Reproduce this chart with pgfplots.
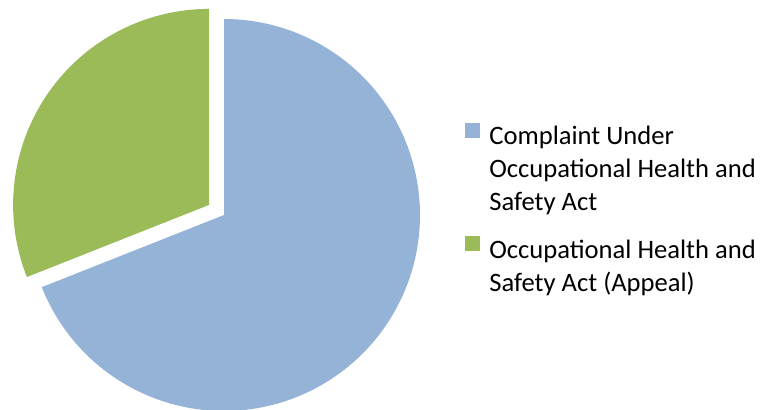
\documentclass[border=0pt]{standalone}
\usepackage{pgfplots}
\pgfplotsset{compat=1.18}
\usepackage{pgfplotstable}
\usepackage{fontspec}
\setmainfont{Carlito}
\definecolor{pieblue}{HTML}{95B3D7}
\definecolor{piegreen}{HTML}{9BBB59}
\newcommand\ls{\rule[-4.95pt]{0pt}{16.5pt}}
\newcommand\lsgap{\rule[-4.95pt]{0pt}{24pt}}
\pgfplotsset{
  legsqB/.style={legend image code/.code={\fill[##1,draw=none] (0pt,-5.05pt) rectangle (7.5pt,2.45pt);}},
}
\pgfplotstableread{
label value
Complaint 69
Appeal 31
}\piedata
\begin{document}
\pgfplotstablegetelem{0}{value}\of\piedata \edef\va{\pgfplotsretval}%
\pgfplotstablegetelem{1}{value}\of\piedata \edef\vb{\pgfplotsretval}%
\pgfmathsetmacro\angA{\va/(\va+\vb)*360}%
\pgfmathsetmacro\startA{90-\angA}%
\pgfmathsetmacro\endB{90+360-\angA}%
\pgfmathsetmacro\midB{90+(360-\angA)/2}%
\pgfmathsetmacro\gx{224+18*cos(\midB)}%
\pgfmathsetmacro\gy{194+18*sin(\midB)}%
\begin{tikzpicture}
\begin{axis}[
  width=380.5pt, height=204.5pt, scale only axis,
  xmin=0, xmax=761, ymin=0, ymax=409,
  axis line style={draw=none}, xtick=\empty, ytick=\empty,
  legend cell align=left,
  legend style={at={(0.611,0.7044)}, anchor=north west, draw=none, fill=none,
    inner sep=0pt, row sep=3.5pt, column sep=4.5pt,
    font=\fontsize{13.3}{16.5}\selectfont,
    nodes={inner sep=0pt}},
  legend image code/.code={\fill[#1,draw=none] (0pt,-1.8pt) rectangle (7.5pt,5.7pt);},
]
\addplot[fill=pieblue, draw=none, domain=\startA:90, samples=181, variable=\t]
  ({224+196*cos(\t)},{194+196*sin(\t)}) -- (axis cs:224,194) -- cycle;
\addlegendentry{\ls Complaint Under}
\addlegendimage{empty legend}
\addlegendentry{\ls Occupational Health and}
\addlegendimage{empty legend}
\addlegendentry{\ls Safety Act}
\addplot[fill=piegreen, draw=none, domain=90:\endB, samples=91, variable=\t, legsqB]
  ({\gx+196*cos(\t)},{\gy+196*sin(\t)}) -- (axis cs:\gx,\gy) -- cycle;
\addlegendentry{\lsgap Occupational Health and}
\addlegendimage{empty legend}
\addlegendentry{\ls Safety Act (Appeal)}
\end{axis}
\end{tikzpicture}
\end{document}
